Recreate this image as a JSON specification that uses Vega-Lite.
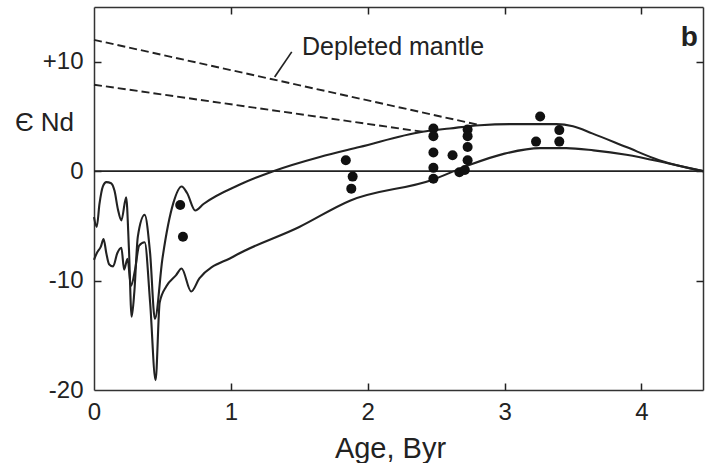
{
  "$schema": "https://vega.github.io/schema/vega-lite/v6.json",
  "width": 609,
  "height": 383,
  "autosize": "none",
  "padding": {"left": 94, "top": 7, "right": 3, "bottom": 73},
  "background": "white",
  "config": {
    "view": {"stroke": null},
    "font": "Liberation Sans",
    "axis": {
      "grid": false,
      "domainColor": "#333",
      "domainWidth": 1.5,
      "tickColor": "#222",
      "tickWidth": 1.5,
      "tickSize": 7,
      "labelFlush": false,
      "labelFont": "Liberation Sans",
      "labelFontSize": 24,
      "labelColor": "#222",
      "titleFont": "Liberation Sans",
      "titleColor": "#222",
      "titleFontWeight": "normal"
    }
  },
  "datasets": {
    "curves": [
      {"series": "upper", "x": 0.00, "y": -4.2},
      {"series": "upper", "x": 0.02, "y": -5.1},
      {"series": "upper", "x": 0.04, "y": -3.0},
      {"series": "upper", "x": 0.065, "y": -1.4},
      {"series": "upper", "x": 0.09, "y": -1.0},
      {"series": "upper", "x": 0.125, "y": -1.1},
      {"series": "upper", "x": 0.15, "y": -1.8},
      {"series": "upper", "x": 0.175, "y": -3.5},
      {"series": "upper", "x": 0.20, "y": -4.5},
      {"series": "upper", "x": 0.235, "y": -2.4},
      {"series": "upper", "x": 0.255, "y": -7.0},
      {"series": "upper", "x": 0.275, "y": -13.3},
      {"series": "upper", "x": 0.295, "y": -11.0},
      {"series": "upper", "x": 0.32, "y": -6.0},
      {"series": "upper", "x": 0.37, "y": -4.0},
      {"series": "upper", "x": 0.41, "y": -7.5},
      {"series": "upper", "x": 0.445, "y": -13.5},
      {"series": "upper", "x": 0.50, "y": -8.0},
      {"series": "upper", "x": 0.58, "y": -2.9},
      {"series": "upper", "x": 0.64, "y": -1.4},
      {"series": "upper", "x": 0.68, "y": -2.0},
      {"series": "upper", "x": 0.74, "y": -3.6},
      {"series": "upper", "x": 0.80, "y": -3.0},
      {"series": "upper", "x": 1.07, "y": -1.2},
      {"series": "upper", "x": 1.31, "y": 0.0},
      {"series": "upper", "x": 1.65, "y": 1.3},
      {"series": "upper", "x": 1.94, "y": 2.2},
      {"series": "upper", "x": 2.40, "y": 3.6},
      {"series": "upper", "x": 2.60, "y": 3.9},
      {"series": "upper", "x": 2.82, "y": 4.2},
      {"series": "upper", "x": 3.10, "y": 4.3},
      {"series": "upper", "x": 3.38, "y": 4.3},
      {"series": "upper", "x": 3.50, "y": 4.1},
      {"series": "upper", "x": 3.64, "y": 3.45},
      {"series": "upper", "x": 3.89, "y": 2.2},
      {"series": "upper", "x": 4.13, "y": 1.0},
      {"series": "upper", "x": 4.45, "y": 0.0},
      {"series": "lower", "x": 0.00, "y": -8.1},
      {"series": "lower", "x": 0.02, "y": -7.5},
      {"series": "lower", "x": 0.05, "y": -6.9},
      {"series": "lower", "x": 0.07, "y": -6.2},
      {"series": "lower", "x": 0.09, "y": -7.5},
      {"series": "lower", "x": 0.11, "y": -8.5},
      {"series": "lower", "x": 0.14, "y": -8.7},
      {"series": "lower", "x": 0.17, "y": -7.5},
      {"series": "lower", "x": 0.20, "y": -7.0},
      {"series": "lower", "x": 0.22, "y": -9.0},
      {"series": "lower", "x": 0.245, "y": -8.0},
      {"series": "lower", "x": 0.27, "y": -10.5},
      {"series": "lower", "x": 0.30, "y": -9.0},
      {"series": "lower", "x": 0.33, "y": -6.8},
      {"series": "lower", "x": 0.37, "y": -6.5},
      {"series": "lower", "x": 0.41, "y": -12.0},
      {"series": "lower", "x": 0.45, "y": -19.1},
      {"series": "lower", "x": 0.48, "y": -12.0},
      {"series": "lower", "x": 0.53, "y": -10.5},
      {"series": "lower", "x": 0.60, "y": -9.5},
      {"series": "lower", "x": 0.64, "y": -8.9},
      {"series": "lower", "x": 0.71, "y": -11.0},
      {"series": "lower", "x": 0.77, "y": -9.8},
      {"series": "lower", "x": 1.02, "y": -7.8},
      {"series": "lower", "x": 1.50, "y": -5.1},
      {"series": "lower", "x": 1.87, "y": -2.7},
      {"series": "lower", "x": 2.47, "y": -0.8},
      {"series": "lower", "x": 2.74, "y": 0.55},
      {"series": "lower", "x": 3.00, "y": 1.6},
      {"series": "lower", "x": 3.26, "y": 2.1},
      {"series": "lower", "x": 3.45, "y": 2.1},
      {"series": "lower", "x": 3.65, "y": 1.9},
      {"series": "lower", "x": 3.89, "y": 1.5},
      {"series": "lower", "x": 4.20, "y": 0.7},
      {"series": "lower", "x": 4.45, "y": 0.0},
      {"series": "zero", "x": 0.0, "y": 0.0},
      {"series": "zero", "x": 4.45, "y": 0.0},
      {"series": "dm1", "x": 0.0, "y": 12.0},
      {"series": "dm1", "x": 2.82, "y": 4.2},
      {"series": "dm2", "x": 0.0, "y": 7.9},
      {"series": "dm2", "x": 2.40, "y": 3.6}
    ],
    "points": [
      {"x": 0.63, "y": -3.1}, {"x": 0.65, "y": -6.0},
      {"x": 1.84, "y": 1.0}, {"x": 1.89, "y": -0.5}, {"x": 1.88, "y": -1.6},
      {"x": 2.48, "y": 3.9}, {"x": 2.48, "y": 3.2}, {"x": 2.48, "y": 1.7}, {"x": 2.48, "y": 0.3}, {"x": 2.48, "y": -0.7},
      {"x": 2.62, "y": 1.45}, {"x": 2.67, "y": -0.1},
      {"x": 2.73, "y": 3.8}, {"x": 2.73, "y": 3.2}, {"x": 2.73, "y": 2.2}, {"x": 2.73, "y": 1.0}, {"x": 2.71, "y": 0.1},
      {"x": 3.26, "y": 5.0}, {"x": 3.23, "y": 2.7}, {"x": 3.40, "y": 3.75}, {"x": 3.40, "y": 2.7}
    ]
  },
  "layer": [
    {
      "data": {"name": "curves"},
      "transform": [{"filter": "datum.series === 'upper' || datum.series === 'lower'"}],
      "mark": {"type": "line", "interpolate": "monotone", "color": "#222", "strokeWidth": 2.1},
      "encoding": {
        "x": {"field": "x", "type": "quantitative", "scale": {"domain": [0, 4.45], "nice": false, "zero": false},
          "axis": {"orient": "bottom", "values": [0, 1, 2, 3, 4], "ticks": false, "labelPadding": 10, "title": "Age, Byr", "titleFontSize": 29, "titleX": 296, "titleY": 67, "titleAlign": "center", "titleBaseline": "alphabetic"}},
        "y": {"field": "y", "type": "quantitative", "scale": {"domain": [-20, 15], "nice": false, "zero": false},
          "axis": {"orient": "left", "values": [-20, -10, 0, 10], "ticks": false, "labelPadding": 11, "labelExpr": "datum.value > 0 ? '+' + datum.value : '' + datum.value", "title": "Є Nd", "titleFontSize": 26, "titleAngle": 0, "titleX": -50, "titleY": 123, "titleAlign": "center", "titleBaseline": "alphabetic"}},
        "detail": {"field": "series"}
      }
    },
    {
      "data": {"name": "curves"},
      "transform": [{"filter": "datum.series === 'zero'"}],
      "mark": {"type": "line", "color": "#222", "strokeWidth": 1.8},
      "encoding": {
        "x": {"field": "x", "type": "quantitative", "axis": {"orient": "top", "values": [0, 1, 2, 3, 4], "ticks": false, "labels": false, "title": null}},
        "y": {"field": "y", "type": "quantitative", "axis": {"orient": "right", "values": [-20, -10, 0, 10], "ticks": false, "labels": false, "title": null}}
      }
    },
    {
      "data": {"name": "curves"},
      "transform": [{"filter": "datum.series === 'dm1' || datum.series === 'dm2'"}],
      "mark": {"type": "line", "color": "#222", "strokeWidth": 1.9, "strokeDash": [8, 4]},
      "encoding": {
        "x": {"field": "x", "type": "quantitative", "axis": {"orient": "bottom", "values": [1, 2, 3, 4], "offset": -7, "domain": false, "labels": false, "ticks": true, "title": null}},
        "y": {"field": "y", "type": "quantitative", "axis": {"orient": "left", "values": [-10, 0, 10], "offset": -7, "domain": false, "labels": false, "ticks": true, "title": null}},
        "detail": {"field": "series"}
      }
    },
    {
      "data": {"values": [{"x": 1.32, "y": 8.6, "x2": 1.445, "y2": 10.9}]},
      "mark": {"type": "rule", "color": "#222", "strokeWidth": 1.7},
      "encoding": {
        "x": {"field": "x", "type": "quantitative", "axis": {"orient": "top", "values": [1, 2, 3, 4], "offset": -7, "domain": false, "labels": false, "ticks": true, "title": null}},
        "y": {"field": "y", "type": "quantitative", "axis": {"orient": "right", "values": [-10, 0, 10], "offset": -7, "domain": false, "labels": false, "ticks": true, "title": null}},
        "x2": {"field": "x2"},
        "y2": {"field": "y2"}
      }
    },
    {
      "data": {"name": "points"},
      "mark": {"type": "circle", "color": "#111", "opacity": 1, "size": 100},
      "encoding": {
        "x": {"field": "x", "type": "quantitative", "axis": null},
        "y": {"field": "y", "type": "quantitative", "axis": null}
      }
    },
    {
      "data": {"values": [{"x": 1.52, "y": 11.3, "label": "Depleted mantle"}]},
      "mark": {"type": "text", "align": "left", "baseline": "middle", "fontSize": 25, "color": "#222", "font": "Liberation Sans"},
      "encoding": {
        "x": {"field": "x", "type": "quantitative", "axis": null},
        "y": {"field": "y", "type": "quantitative", "axis": null},
        "text": {"field": "label"}
      }
    },
    {
      "data": {"values": [{"x": 4.35, "y": 12.2, "label": "b"}]},
      "mark": {"type": "text", "align": "center", "baseline": "middle", "fontSize": 28, "fontWeight": "bold", "color": "#222", "font": "Liberation Sans"},
      "encoding": {
        "x": {"field": "x", "type": "quantitative", "axis": null},
        "y": {"field": "y", "type": "quantitative", "axis": null},
        "text": {"field": "label"}
      }
    }
  ],
  "resolve": {"axis": {"x": "independent", "y": "independent"}}
}
